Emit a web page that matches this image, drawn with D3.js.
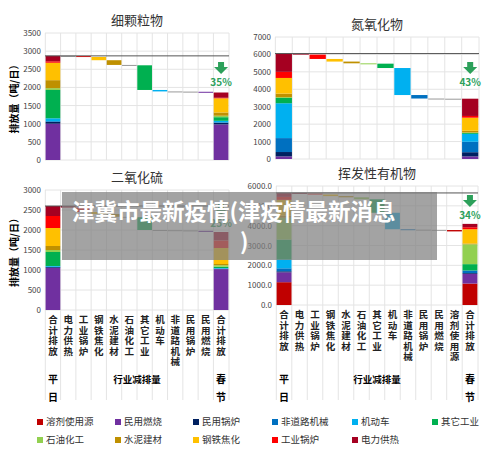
<!DOCTYPE html>
<html><head><meta charset="utf-8">
<script src="https://cdn.jsdelivr.net/npm/d3@7"></script>
<style>body{margin:0;background:#fff}text{font-family:"Noto Sans CJK SC",sans-serif}</style>
</head><body><div id="chart"></div>
<script>
// sectors in stack order, bottom to top
const sectors = ["溶剂使用源","民用燃烧","民用锅炉","非道路机械","机动车","其它工业","石油化工","水泥建材","钢铁焦化","工业锅炉","电力供热"];
const colors = ["#c00000","#7030a0","#002060","#0070c0","#00b0f0","#00b050","#92d050","#bf9000","#ffc000","#ff0000","#a50021"];
const steps = ["电力供热","工业锅炉","钢铁焦化","水泥建材","石油化工","其它工业","机动车","非道路机械","民用锅炉","民用燃烧"];
const legendOrder = ["溶剂使用源","民用燃烧","民用锅炉","非道路机械","机动车","其它工业","石油化工","水泥建材","钢铁焦化","工业锅炉","电力供热"];

// baseline per sector (sectors order) and reductions
const pmBase = [0,1000,50,20,80,780,50,220,480,40,150];
const pmCut  = [0,20,5,5,40,680,10,130,90,25,5];
const noxBase = [0,150,250,800,2000,300,50,200,900,350,1050];
const noxCut  = [0,0,10,200,1550,250,20,100,150,250,60];
const so2Base = [0,1050,20,10,20,350,50,100,450,300,250];
const so2Cut  = [0,30,10,5,5,320,10,70,50,110,40];
const vocBase = [1150,500,50,150,450,1000,1100,100,800,150,200];
const vocCut  = [70,10,10,20,830,680,100,60,80,50,30];

const W = 500, H = 454;
const svg = d3.select("#chart").append("svg").attr("width", W).attr("height", H);

function panel(o) {
  const cats = ["合计排放0", ...o.steps, "合计排放1"];
  const x = d3.scaleBand().domain(cats).range([o.x0, o.x1]).padding(0.04);
  const y = d3.scaleLinear().domain([0, o.max]).range([o.y1, o.y0]);
  const g = svg.append("g");
  const total = d3.sum(o.base);
  // grid
  g.selectAll(".hg").data(y.ticks(o.max / o.step)).join("line")
    .attr("x1", o.x0).attr("x2", o.x1).attr("y1", d => y(d)).attr("y2", d => y(d))
    .attr("stroke", "#e4e4e4");
  const bounds = cats.map(c => x(c) - x.step() * x.padding() / 2).concat([o.x1]);
  g.selectAll(".vg").data(bounds).join("line")
    .attr("x1", d => d).attr("x2", d => d).attr("y1", o.y0).attr("y2", o.gridBottom)
    .attr("stroke", "#e4e4e4");
  g.selectAll(".yl").data(y.ticks(o.max / o.step)).join("text")
    .attr("x", o.x0 - 4).attr("y", d => y(d) + 3).attr("text-anchor", "end")
    .attr("font-size", 8).attr("fill", "#444").text(d => o.fmt(d));
  // stacks
  function stack(vals, key) {
    let acc = 0;
    vals.forEach((v, i) => {
      if (v <= 0) { return; }
      g.append("rect").attr("x", x(key)).attr("width", x.bandwidth())
        .attr("y", y(acc + v)).attr("height", y(acc) - y(acc + v)).attr("fill", colors[i]);
      acc += v;
    });
  }
  stack(o.base, "合计排放0");
  const fin = o.base.map((v, i) => v - o.cut[i]);
  stack(fin, "合计排放1");
  // steps
  let level = total;
  o.steps.forEach(s => {
    const i = sectors.indexOf(s);
    const c = o.cut[i];
    g.append("rect").attr("x", x(s)).attr("width", x.bandwidth())
      .attr("y", y(level)).attr("height", Math.max(1, y(level - c) - y(level)))
      .attr("fill", c > 15 ? colors[i] : "#999");
    level -= c;
  });
  g.append("line").attr("x1", o.x0).attr("x2", o.x1).attr("y1", y(total)).attr("y2", y(total))
    .attr("stroke", "#555").attr("stroke-width", 1);
  // title
  svg.append("text").attr("x", (o.x0 + o.x1) / 2).attr("y", o.y0 - 8).attr("text-anchor", "middle")
    .attr("font-size", 13).attr("fill", "#333").text(o.title);
  // arrow + percent
  const ax = x("合计排放1") + x.bandwidth() / 2;
  const ay = o.arrowY;
  g.append("path").attr("d", `M${ax-3},${ay} h6 v5 h4 l-7,7 l-7,-7 h4 z`).attr("fill", "#2ca05a");
  g.append("text").attr("x", ax).attr("y", ay + 24).attr("text-anchor", "middle")
    .attr("font-size", 10).attr("font-weight", "bold").attr("fill", "#2ca05a")
    .text(Math.round((1 - d3.sum(fin) / total) * 100) + "%");
  // y axis label
  if (o.ylab) {
    svg.append("text").attr("transform", `translate(${o.x0 - 27},${(o.y0 + o.y1) / 2}) rotate(-90)`)
      .attr("text-anchor", "middle").attr("font-size", 10).attr("font-weight", "bold")
      .text("排放量（吨/日）");
  }
  // category labels
  if (o.labels) {
    cats.forEach(c => {
      const name = c.replace(/[01]$/, "");
      const cx = x(c) + x.bandwidth() / 2;
      name.split("").forEach((ch, k) => {
        svg.append("text").attr("x", cx).attr("y", o.y1 + 13 + k * 10.5).attr("text-anchor", "middle")
          .attr("font-size", 9.5).attr("font-weight", "bold").attr("fill", "#222").text(ch);
      });
    });
    const first = x("合计排放0") + x.bandwidth() / 2, last = x("合计排放1") + x.bandwidth() / 2;
    [["平", first, 383], ["日", first, 401], ["春", last, 383], ["节", last, 401]].forEach(d => {
      svg.append("text").attr("x", d[1]).attr("y", d[2]).attr("text-anchor", "middle")
        .attr("font-size", 10).attr("font-weight", "bold").text(d[0]);
    });
    svg.append("text").attr("x", (first + last) / 2).attr("y", 383).attr("text-anchor", "middle")
      .attr("font-size", 9.5).attr("font-weight", "bold").text("行业减排量");
  }
}

panel({title: "细颗粒物", x0: 45, x1: 229, y0: 33, y1: 160, max: 3500, step: 500, base: pmBase, cut: pmCut,
  steps: steps, fmt: d => d, ylab: true, arrowY: 62, gridBottom: 160});
panel({title: "氮氧化物", x0: 275, x1: 479, y0: 37, y1: 159, max: 7000, step: 1000, base: noxBase, cut: noxCut,
  steps: steps, fmt: d => d, arrowY: 62, gridBottom: 159});
panel({title: "二氧化硫", x0: 45, x1: 229, y0: 190, y1: 310, max: 3000, step: 500, base: so2Base, cut: so2Cut,
  steps: steps, fmt: d => d, ylab: true, arrowY: 203, labels: true, gridBottom: 400});
panel({title: "挥发性有机物", x0: 276, x1: 478, y0: 186, y1: 305, max: 6000, step: 1000, base: vocBase, cut: vocCut,
  steps: [...steps, "溶剂使用源"], fmt: d => d.toFixed(1), arrowY: 195, labels: true, gridBottom: 400});

// legend
const lx = [37, 115, 193, 272, 352, 432];
legendOrder.forEach((s, i) => {
  const gx = lx[i % 6], gy = i < 6 ? 425 : 443;
  svg.append("rect").attr("x", gx).attr("y", gy - 6).attr("width", 6).attr("height", 6)
    .attr("fill", colors[sectors.indexOf(s)]);
  svg.append("text").attr("x", gx + 9).attr("y", gy).attr("font-size", 9.5).attr("fill", "#333")
    .attr("font-family", "Noto Serif CJK SC, Noto Sans CJK SC").text(s);
});

// overlay banner
svg.append("rect").attr("x", 62).attr("y", 192).attr("width", 375).attr("height", 68)
  .attr("fill", "#808080").attr("opacity", 0.72);
svg.append("text").attr("x", 72).attr("y", 220).attr("font-size", 22.5).attr("font-weight", "bold")
  .attr("fill", "#fff").text("津冀市最新疫情(津疫情最新消息");
svg.append("text").attr("x", 240).attr("y", 250).attr("font-size", 22.5).attr("font-weight", "bold")
  .attr("fill", "#fff").text(")");
</script></body></html>
